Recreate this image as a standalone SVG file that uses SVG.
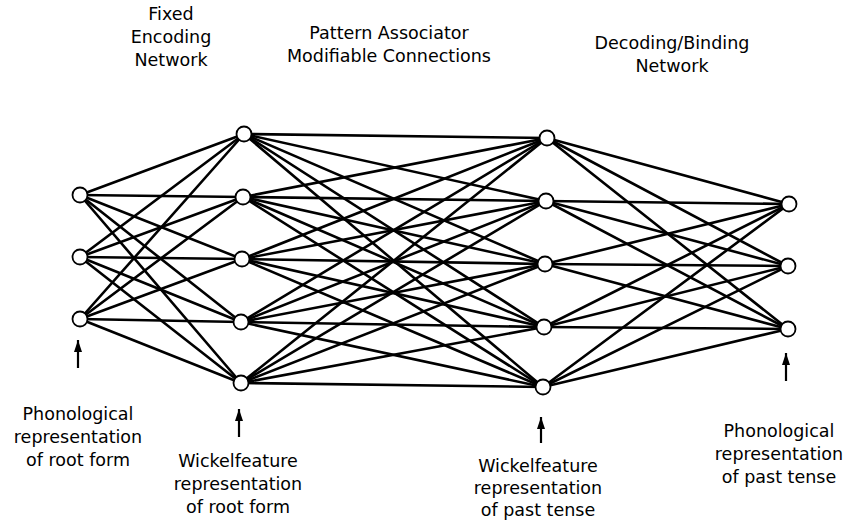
<svg xmlns="http://www.w3.org/2000/svg" width="850" height="522" viewBox="0 0 850 522">
  <style>
    .lbl { font-family: "DejaVu Sans", "Open Sans", sans-serif; font-size: 17.5px; fill: #000; text-anchor: middle; }
    .edge { stroke: #000; stroke-width: 2.6; stroke-linecap: round; }
    .unit { fill: #fff; stroke: #000; stroke-width: 1.8; }
    .ptr { stroke: #000; stroke-width: 2.2; }
  </style>
  <defs>
    <marker id="head" viewBox="0 0 12 8" refX="12" refY="4" markerWidth="12" markerHeight="8" orient="auto" markerUnits="userSpaceOnUse">
      <path d="M0,0 L12,4 L0,8 Z" fill="#000"/>
    </marker>
  </defs>
  <rect width="850" height="522" fill="#fff"/>

  <!-- top titles -->
  <g id="title-encoding">
    <text class="lbl" x="171" y="20">Fixed</text>
    <text class="lbl" x="171" y="43">Encoding</text>
    <text class="lbl" x="171" y="66">Network</text>
  </g>
  <g id="title-associator">
    <text class="lbl" x="389" y="39">Pattern Associator</text>
    <text class="lbl" x="389" y="62">Modifiable Connections</text>
  </g>
  <g id="title-decoding">
    <text class="lbl" x="672" y="49">Decoding/Binding</text>
    <text class="lbl" x="672" y="72">Network</text>
  </g>

  <!-- connections between layers -->
  <g id="connectors" class="edge">
    <!-- input phonological units to root wickelfeatures -->
    <line x1="80" y1="195" x2="244" y2="134"/><line x1="80" y1="195" x2="243" y2="197"/><line x1="80" y1="195" x2="242" y2="259"/><line x1="80" y1="195" x2="241" y2="322"/><line x1="80" y1="195" x2="241" y2="383"/>
    <line x1="80" y1="257" x2="244" y2="134"/><line x1="80" y1="257" x2="243" y2="197"/><line x1="80" y1="257" x2="242" y2="259"/><line x1="80" y1="257" x2="241" y2="322"/><line x1="80" y1="257" x2="241" y2="383"/>
    <line x1="80" y1="319" x2="244" y2="134"/><line x1="80" y1="319" x2="243" y2="197"/><line x1="80" y1="319" x2="242" y2="259"/><line x1="80" y1="319" x2="241" y2="322"/><line x1="80" y1="319" x2="241" y2="383"/>
    <!-- modifiable pattern associator -->
    <line x1="244" y1="134" x2="547" y2="138"/><line x1="244" y1="134" x2="546" y2="201"/><line x1="244" y1="134" x2="545" y2="264"/><line x1="244" y1="134" x2="544" y2="327"/><line x1="244" y1="134" x2="543" y2="387"/>
    <line x1="243" y1="197" x2="547" y2="138"/><line x1="243" y1="197" x2="546" y2="201"/><line x1="243" y1="197" x2="545" y2="264"/><line x1="243" y1="197" x2="544" y2="327"/><line x1="243" y1="197" x2="543" y2="387"/>
    <line x1="242" y1="259" x2="547" y2="138"/><line x1="242" y1="259" x2="546" y2="201"/><line x1="242" y1="259" x2="545" y2="264"/><line x1="242" y1="259" x2="544" y2="327"/><line x1="242" y1="259" x2="543" y2="387"/>
    <line x1="241" y1="322" x2="547" y2="138"/><line x1="241" y1="322" x2="546" y2="201"/><line x1="241" y1="322" x2="545" y2="264"/><line x1="241" y1="322" x2="544" y2="327"/><line x1="241" y1="322" x2="543" y2="387"/>
    <line x1="241" y1="383" x2="547" y2="138"/><line x1="241" y1="383" x2="546" y2="201"/><line x1="241" y1="383" x2="545" y2="264"/><line x1="241" y1="383" x2="544" y2="327"/><line x1="241" y1="383" x2="543" y2="387"/>
    <!-- past-tense wickelfeatures to output phonological units -->
    <line x1="547" y1="138" x2="789" y2="204"/><line x1="547" y1="138" x2="788" y2="266"/><line x1="547" y1="138" x2="788" y2="329"/>
    <line x1="546" y1="201" x2="789" y2="204"/><line x1="546" y1="201" x2="788" y2="266"/><line x1="546" y1="201" x2="788" y2="329"/>
    <line x1="545" y1="264" x2="789" y2="204"/><line x1="545" y1="264" x2="788" y2="266"/><line x1="545" y1="264" x2="788" y2="329"/>
    <line x1="544" y1="327" x2="789" y2="204"/><line x1="544" y1="327" x2="788" y2="266"/><line x1="544" y1="327" x2="788" y2="329"/>
    <line x1="543" y1="387" x2="789" y2="204"/><line x1="543" y1="387" x2="788" y2="266"/><line x1="543" y1="387" x2="788" y2="329"/>
  </g>

  <!-- units -->
  <g id="root-phon-1"><circle class="unit" cx="80" cy="195" r="7.5"/></g>
  <g id="root-phon-2"><circle class="unit" cx="80" cy="257" r="7.5"/></g>
  <g id="root-phon-3"><circle class="unit" cx="80" cy="319" r="7.5"/></g>

  <g id="root-wf-1"><circle class="unit" cx="244" cy="134" r="7.5"/></g>
  <g id="root-wf-2"><circle class="unit" cx="243" cy="197" r="7.5"/></g>
  <g id="root-wf-3"><circle class="unit" cx="242" cy="259" r="7.5"/></g>
  <g id="root-wf-4"><circle class="unit" cx="241" cy="322" r="7.5"/></g>
  <g id="root-wf-5"><circle class="unit" cx="241" cy="383" r="7.5"/></g>

  <g id="past-wf-1"><circle class="unit" cx="547" cy="138" r="7.5"/></g>
  <g id="past-wf-2"><circle class="unit" cx="546" cy="201" r="7.5"/></g>
  <g id="past-wf-3"><circle class="unit" cx="545" cy="264" r="7.5"/></g>
  <g id="past-wf-4"><circle class="unit" cx="544" cy="327" r="7.5"/></g>
  <g id="past-wf-5"><circle class="unit" cx="543" cy="387" r="7.5"/></g>

  <g id="past-phon-1"><circle class="unit" cx="789" cy="204" r="7.5"/></g>
  <g id="past-phon-2"><circle class="unit" cx="788" cy="266" r="7.5"/></g>
  <g id="past-phon-3"><circle class="unit" cx="788" cy="329" r="7.5"/></g>

  <!-- pointers and captions under each layer -->
  <g id="caption-root-phon">
    <line class="ptr" x1="78" y1="368" x2="78" y2="340" marker-end="url(#head)"/>
    <text class="lbl" x="78" y="420">Phonological</text>
    <text class="lbl" x="78" y="443">representation</text>
    <text class="lbl" x="78" y="466">of root form</text>
  </g>
  <g id="caption-root-wf">
    <line class="ptr" x1="239" y1="437" x2="239" y2="409" marker-end="url(#head)"/>
    <text class="lbl" x="238" y="467">Wickelfeature</text>
    <text class="lbl" x="238" y="490">representation</text>
    <text class="lbl" x="238" y="513">of root form</text>
  </g>
  <g id="caption-past-wf">
    <line class="ptr" x1="541" y1="443" x2="541" y2="417" marker-end="url(#head)"/>
    <text class="lbl" x="538" y="472">Wickelfeature</text>
    <text class="lbl" x="538" y="494">representation</text>
    <text class="lbl" x="538" y="516">of past tense</text>
  </g>
  <g id="caption-past-phon">
    <line class="ptr" x1="786" y1="381" x2="786" y2="353" marker-end="url(#head)"/>
    <text class="lbl" x="779" y="437">Phonological</text>
    <text class="lbl" x="779" y="460">representation</text>
    <text class="lbl" x="779" y="483">of past tense</text>
  </g>
</svg>
